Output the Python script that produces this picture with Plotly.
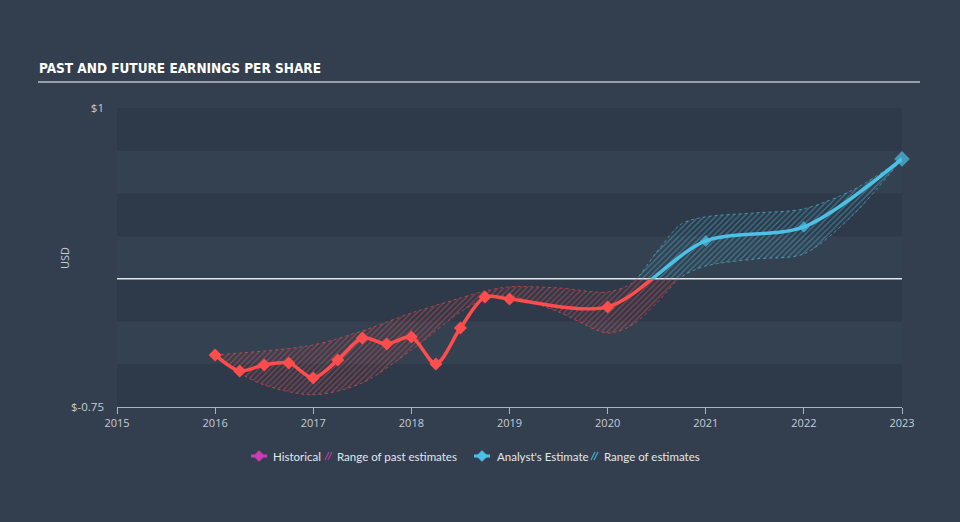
import plotly.graph_objects as go

# ---------------- data ----------------
eps_x = [2016.0, 2016.25, 2016.5, 2016.75, 2017.0, 2017.25, 2017.5, 2017.75,
         2018.0, 2018.25, 2018.5, 2018.75, 2019.0, 2020.0, 2021.0, 2022.0, 2023.0]
eps_y = [-0.445, -0.539, -0.504, -0.492, -0.580, -0.475, -0.346, -0.381,
         -0.340, -0.498, -0.287, -0.106, -0.118, -0.164, 0.222, 0.304, 0.702]

band_x = [2016.0, 2016.25, 2016.5, 2017.0, 2017.5, 2018.0, 2018.5, 2018.75, 2019.0,
          2019.5, 2020.0, 2020.25, 2020.5, 2020.75, 2021.0, 2021.5, 2022.0, 2022.5, 2023.0]
band_hi = [-0.445, -0.434, -0.422, -0.387, -0.305, -0.200, -0.112, -0.071, -0.047,
           -0.053, -0.077, -0.024, 0.157, 0.321, 0.363, 0.386, 0.410, 0.521, 0.702]
band_lo = [-0.445, -0.551, -0.621, -0.679, -0.609, -0.416, -0.194, -0.118, -0.100,
           -0.194, -0.317, -0.270, -0.141, 0.011, 0.075, 0.116, 0.146, 0.374, 0.702]

x_ticks = list(range(2015, 2024))
y_min, y_max = -0.75, 1.0
y_tick_text = {"$1": 1.0, "$-0.75": -0.75}

# ---------------- style ----------------
PAPER = "#333f4f"
LIGHT = "#344150"
DARK = "#2e3a4a"
RED = "#ff4d4d"
BLUE = "#4cc1e5"
MAG = "#c93cb4"
TXT = "#c5ccd4"
SMOOTH = 0.85

W, H = 960, 522
L, R, T, B = 117, 58, 108, 115
PW, PH = W - L - R, H - T - B
f0 = (0 - y_min) / (y_max - y_min)


def X(px):
    return (px - L) / PW


def Y(py):
    return (H - B - py) / PH


fig = go.Figure()

# traces on both subplots: y (negative, red) and y2 (positive, blue)
for axis, col, pat, edge in [("y", RED, "rgba(255,77,77,0.9)", "rgba(255,77,77,0.6)"),
                             ("y2", BLUE, "rgba(76,193,229,0.9)", "rgba(76,193,229,0.6)")]:
    fig.add_trace(go.Scatter(x=band_x, y=band_lo, yaxis=axis, mode="lines",
                             line=dict(shape="spline", smoothing=SMOOTH, width=1, color=edge, dash="dot"),
                             hoverinfo="skip", showlegend=False))
    fig.add_trace(go.Scatter(x=band_x, y=band_hi, yaxis=axis, mode="lines",
                             line=dict(shape="spline", smoothing=SMOOTH, width=1, color=edge, dash="dot"),
                             fill="tonexty", fillcolor="rgba(0,0,0,0)",
                             fillpattern=dict(shape="/", size=4, solidity=0.3,
                                              fgcolor=pat, bgcolor="rgba(0,0,0,0)"),
                             hoverinfo="skip", showlegend=False))
    fig.add_trace(go.Scatter(x=eps_x, y=eps_y, yaxis=axis, mode="lines",
                             line=dict(shape="spline", smoothing=SMOOTH, width=3.5, color=col),
                             showlegend=False))

neg = [(x, y) for x, y in zip(eps_x, eps_y) if y < 0]
pos = [(x, y) for x, y in zip(eps_x, eps_y) if y >= 0]
fig.add_trace(go.Scatter(x=[p[0] for p in neg], y=[p[1] for p in neg], yaxis="y",
                         mode="markers", cliponaxis=False,
                         marker=dict(symbol="diamond", size=10, color=RED, line=dict(width=0)),
                         showlegend=False))
fig.add_trace(go.Scatter(x=[p[0] for p in pos], y=[p[1] for p in pos], yaxis="y2",
                         mode="markers", cliponaxis=False,
                         marker=dict(symbol="diamond", size=[9] * (len(pos) - 1) + [12],
                                     color=BLUE, line=dict(width=0)),
                         showlegend=False))

shapes = []
# alternating horizontal bands
edges = [-0.75, -0.5, -0.25, 0.0, 0.25, 0.5, 0.75, 1.0]
for i in range(len(edges) - 1):
    if i % 2 == 0:
        shapes.append(dict(type="rect", xref="x", yref="paper", x0=2015, x1=2023,
                           y0=(edges[i] - y_min) / (y_max - y_min),
                           y1=(edges[i + 1] - y_min) / (y_max - y_min),
                           fillcolor=DARK, line=dict(width=0), layer="below"))
# zero line
shapes.append(dict(type="line", xref="x", yref="paper", x0=2015, x1=2023, y0=f0, y1=f0,
                   line=dict(color="#e4e6ea", width=1.5), layer="below"))
# title underline
shapes.append(dict(type="line", xref="paper", yref="paper", x0=X(38), x1=X(920),
                   y0=Y(82), y1=Y(82), line=dict(color="#b9c0c8", width=1.5)))

annotations = [
    dict(text="PAST AND FUTURE EARNINGS PER SHARE", xref="paper", yref="paper",
         x=X(37), y=Y(68), xanchor="left", yanchor="middle", showarrow=False,
         font=dict(family="DejaVu Sans Condensed, sans-serif",
                   size=13.5, color="#ffffff", weight="bold")),
    dict(text="USD", xref="paper", yref="paper", x=X(64), y=Y(258), textangle=-90,
         xanchor="center", yanchor="middle", showarrow=False,
         font=dict(family="Open Sans", size=11, color=TXT)),
]

# custom legend
LY = 456
legend_items = [
    ("diamond", MAG, 259, "Historical", 271),
    ("hatch", MAG, 325, "Range of past estimates", 335),
    ("diamond", BLUE, 482, "Analyst's Estimate", 495),
    ("hatch", BLUE, 591, "Range of estimates", 602),
]
for kind, col, cx, label, tx in legend_items:
    if kind == "diamond":
        shapes.append(dict(type="line", xref="paper", yref="paper", x0=X(cx - 8), x1=X(cx + 8),
                           y0=Y(LY), y1=Y(LY), line=dict(color=col, width=3)))
        path = "M {},{} L {},{} L {},{} L {},{} Z".format(
            X(cx - 5.5), Y(LY), X(cx), Y(LY - 5.5), X(cx + 5.5), Y(LY), X(cx), Y(LY + 5.5))
        shapes.append(dict(type="path", xref="paper", yref="paper", path=path,
                           fillcolor=col, line=dict(color=col, width=0.5)))
    else:
        for k in range(2):
            x0 = cx + k * 3
            shapes.append(dict(type="line", xref="paper", yref="paper", x0=X(x0), x1=X(x0 + 4),
                               y0=Y(LY + 4), y1=Y(LY - 4), opacity=0.8,
                               line=dict(color=col, width=1.3)))
    annotations.append(dict(text=label, xref="paper", yref="paper", x=X(tx), y=Y(LY),
                            xanchor="left", yanchor="middle", showarrow=False,
                            font=dict(family="Lato, Open Sans, sans-serif", size=11.5,
                                      color="#e2e6eb")))

fig.update_layout(
    width=W, height=H,
    margin=dict(l=L, r=R, t=T, b=B),
    paper_bgcolor=PAPER, plot_bgcolor=LIGHT,
    showlegend=False,
    shapes=shapes, annotations=annotations,
    xaxis=dict(range=[2015, 2023], tickvals=x_ticks, ticktext=[str(t) for t in x_ticks],
               ticks="outside", ticklen=6, tickcolor="#a9b4c2", showline=True,
               linecolor="#a9b4c2", linewidth=1, showgrid=False, zeroline=False,
               tickfont=dict(family="Open Sans", size=11, color=TXT), anchor="y",
               fixedrange=True),
    yaxis=dict(domain=[0, f0], range=[y_min, 0], tickvals=[y_tick_text["$-0.75"]],
               ticktext=["$-0.75"], showgrid=False, zeroline=False, showline=False,
               ticks="", ticklabelstandoff=12,
               tickfont=dict(family="Open Sans", size=11.5, color=TXT), anchor="x"),
    yaxis2=dict(domain=[f0, 1], range=[0, y_max], tickvals=[y_tick_text["$1"]],
                ticktext=["$1"], showgrid=False, zeroline=False, showline=False,
                ticks="", ticklabelstandoff=12,
                tickfont=dict(family="Open Sans", size=11.5, color=TXT), anchor="x"),
)

fig.write_html("out.html")
